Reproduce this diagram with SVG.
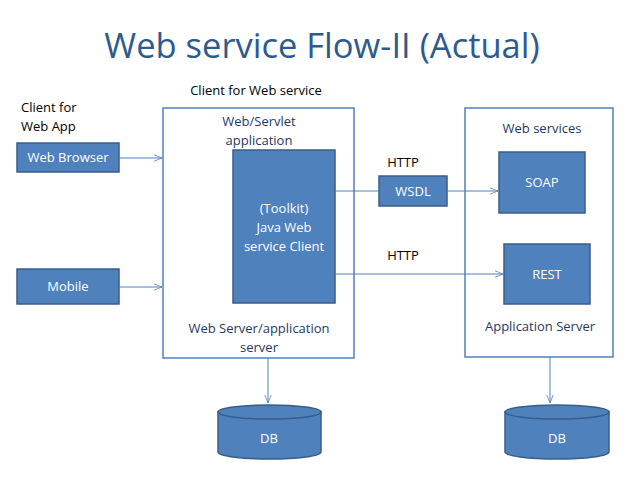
<svg xmlns="http://www.w3.org/2000/svg" width="638" height="479" viewBox="0 0 638 479">
<style>
text{font-family:"Open Sans","Liberation Sans",sans-serif;font-size:13px;fill:#1F3864;text-anchor:middle}
.box{fill:#4F81BD;stroke:#385D8A;stroke-width:1.5}
.w{fill:#fff}
.cont{fill:#fff;stroke:#4F81BD;stroke-width:1.5}
.c{stroke:#4F81BD;stroke-width:1;fill:none}
.k{fill:#000}
</style>
<defs><marker id="a" viewBox="0 0 10 10" refX="10" refY="5" markerWidth="8" markerHeight="8" orient="auto"><path d="M0,1 L10,5 L0,9" fill="none" stroke="#4F81BD"/></marker></defs>
<rect width="638" height="479" fill="#fff"/>
<text x="322" y="58" style="font-size:34.5px;fill:#2E5B8E">Web service Flow-II (Actual)</text>
<text x="256" y="95" class="k">Client for Web service</text>
<text x="21" y="112" class="k" style="text-anchor:start">Client for</text>
<text x="21" y="131" class="k" style="text-anchor:start">Web App</text>
<g id="webapp-container"><rect class="cont" x="163" y="108" width="191" height="250"/>
<text x="259" y="126">Web/Servlet</text><text x="259" y="145">application</text>
<text x="259" y="333">Web Server/application</text><text x="259" y="352">server</text></g>
<g id="appserver-container"><rect class="cont" x="465" y="108" width="148" height="249"/>
<text x="542" y="133">Web services</text><text x="540" y="331">Application Server</text></g>
<g id="browser"><rect class="box" x="17" y="143" width="102" height="29"/><text class="w" x="68" y="162">Web Browser</text></g>
<g id="mobile"><rect class="box" x="17" y="269" width="102" height="35"/><text class="w" x="68" y="291">Mobile</text></g>
<g id="client"><rect class="box" x="233" y="150" width="102" height="153"/>
<text class="w" x="284" y="213">(Toolkit)</text><text class="w" x="284" y="232">Java Web</text><text class="w" x="284" y="251">service Client</text></g>
<g id="wsdl"><rect class="box" x="379" y="176" width="68" height="30"/><text class="w" x="413" y="196">WSDL</text></g>
<g id="soap"><rect class="box" x="499" y="152" width="86" height="61"/><text class="w" x="542" y="187">SOAP</text></g>
<g id="rest"><rect class="box" x="504" y="244" width="86" height="60"/><text class="w" x="547" y="279">REST</text></g>
<text x="403" y="167" class="k">HTTP</text>
<text x="403" y="260" class="k">HTTP</text>
<g id="db1"><path class="box" d="M218,412 v40 a51.5,7 0 0 0 103,0 v-40 z"/><ellipse class="box" cx="269.5" cy="412" rx="51.5" ry="7"/><text class="w" x="269" y="443">DB</text></g>
<g id="db2"><path class="box" d="M505,412 v40 a52,7 0 0 0 104,0 v-40 z"/><ellipse class="box" cx="557" cy="412" rx="52" ry="7"/><text class="w" x="557" y="443">DB</text></g>
<g id="connectors">
<line class="c" x1="119" y1="158" x2="162" y2="158" marker-end="url(#a)"/>
<line class="c" x1="119" y1="287" x2="162" y2="287" marker-end="url(#a)"/>
<line class="c" x1="335" y1="191" x2="379" y2="191"/>
<line class="c" x1="447" y1="191" x2="498" y2="191" marker-end="url(#a)"/>
<line class="c" x1="335" y1="274" x2="503" y2="274" marker-end="url(#a)"/>
<line class="c" x1="268" y1="358" x2="268" y2="403" marker-end="url(#a)"/>
<line class="c" x1="550" y1="357" x2="550" y2="403" marker-end="url(#a)"/>
</g>
</svg>
